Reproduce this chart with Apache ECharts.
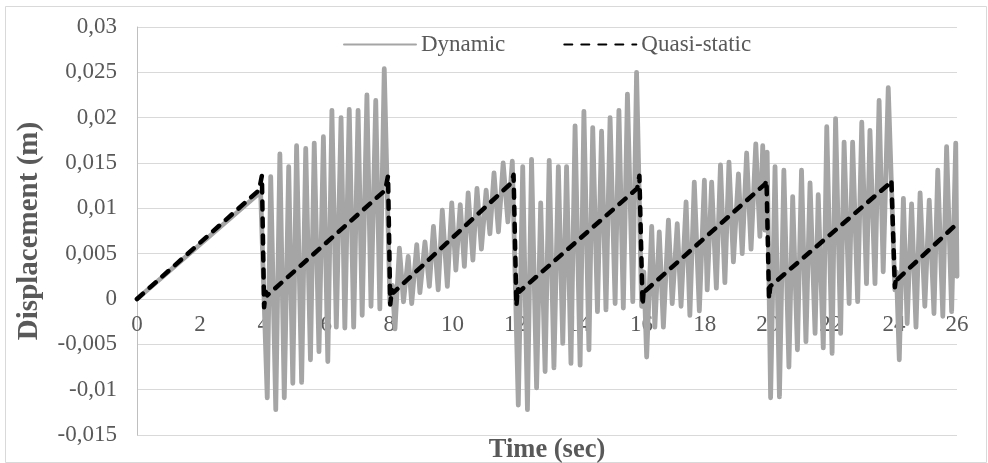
<!DOCTYPE html>
<html>
<head>
<meta charset="utf-8">
<script src="https://cdn.jsdelivr.net/npm/echarts@6/dist/echarts.min.js"></script>
<style>html,body{margin:0;padding:0;background:#fff}#c{width:988px;height:463px}</style>
</head>
<body>
<div id="c"></div>
<script>
// ---- data (time in s, displacement in m) ----
const xTicks = [0, 2, 4, 6, 8, 10, 12, 14, 16, 18, 20, 22, 24, 26];
const seriesNames = ['Dynamic', 'Quasi-static'];

const dynT = [
  0, 3.92,
  4.13, 4.24, 4.40, 4.53, 4.67, 4.81, 4.94, 5.06, 5.22, 5.35, 5.50, 5.62, 5.77, 5.91, 6.05, 6.18, 6.32, 6.47, 6.59, 6.73, 6.87, 7.01, 7.14, 7.29, 7.42, 7.57, 7.70, 7.84,
  8.02, 8.10, 8.18, 8.32, 8.45, 8.60, 8.71, 8.87, 8.97, 9.13, 9.27, 9.40, 9.55, 9.68, 9.84, 9.98, 10.11, 10.25, 10.38, 10.50, 10.65, 10.78, 10.92, 11.07, 11.19, 11.32, 11.46, 11.61, 11.76, 11.90,
  12.09, 12.23, 12.38, 12.51, 12.67, 12.80, 12.94, 13.07, 13.22, 13.36, 13.50, 13.62, 13.76, 13.89, 14.05, 14.17, 14.33, 14.45, 14.60, 14.73, 14.87, 15.00, 15.16, 15.28, 15.42, 15.55, 15.72, 15.84,
  16.00, 16.07, 16.16, 16.32, 16.42, 16.56, 16.69, 16.85, 16.97, 17.13, 17.25, 17.41, 17.53, 17.67, 17.83, 17.99, 18.08, 18.22, 18.37, 18.50, 18.64, 18.77, 18.91, 19.07, 19.19, 19.33, 19.47, 19.62, 19.75, 19.84, 19.91, 19.98,
  20.09, 20.23, 20.37, 20.51, 20.67, 20.79, 20.94, 21.07, 21.21, 21.34, 21.50, 21.60, 21.76, 21.87, 22.04, 22.15, 22.31, 22.42, 22.58, 22.69, 22.85, 22.98, 23.13, 23.24, 23.40, 23.53, 23.66, 23.82,
  24.03, 24.08, 24.17, 24.30, 24.42, 24.56, 24.70, 24.83, 24.98, 25.12, 25.27, 25.39, 25.55, 25.67, 25.83, 25.96, 26.0
];
const dynV = [
  0, 0.0118,
  -0.0109, 0.0135, -0.0122, 0.0160, -0.0109, 0.0146, -0.0093, 0.0169, -0.0092, 0.0166, -0.0067, 0.0172, -0.0058, 0.0179, -0.0069, 0.0208, -0.0031, 0.0200, -0.0032, 0.0209, -0.0031, 0.0208, -0.0018, 0.0225, -0.0008, 0.0219, -0.0011, 0.0254,
  -0.0005, 0.0015, -0.0033, 0.0056, -0.0003, 0.0047, -0.0005, 0.0060, 0.0007, 0.0063, 0.0014, 0.0080, 0.0010, 0.0098, 0.0014, 0.0106, 0.0032, 0.0104, 0.0036, 0.0117, 0.0043, 0.0122, 0.0055, 0.0120, 0.0072, 0.0139, 0.0074, 0.0150, 0.0085, 0.0152,
  -0.0117, 0.0146, -0.0122, 0.0154, -0.0098, 0.0106, -0.0080, 0.0153, -0.0076, 0.0146, -0.0049, 0.0146, -0.0071, 0.0191, -0.0073, 0.0207, -0.0056, 0.0189, -0.0014, 0.0185, -0.0012, 0.0200, -0.0005, 0.0208, -0.0010, 0.0226, -0.0003, 0.0250,
  -0.0008, 0.0030, -0.0064, 0.0080, -0.0031, 0.0074, -0.0031, 0.0087, -0.0005, 0.0083, -0.0008, 0.0107, -0.0018, 0.0129, -0.0013, 0.0131, 0.0010, 0.0129, 0.0012, 0.0148, 0.0018, 0.0151, 0.0041, 0.0138, 0.0050, 0.0161, 0.0055, 0.0171, 0.0069, 0.0169, 0.0076, 0.0162,
  -0.0109, 0.0146, -0.0108, 0.0142, -0.0075, 0.0113, -0.0056, 0.0142, -0.0047, 0.0128, -0.0038, 0.0115, -0.0054, 0.0190, -0.0060, 0.0199, -0.0038, 0.0173, -0.0005, 0.0173, -0.0003, 0.0195, 0.0017, 0.0186, 0.0017, 0.0219, 0.0030, 0.0233,
  0.0010, 0.0030, -0.0067, 0.0111, -0.0027, 0.0105, -0.0031, 0.0117, -0.0008, 0.0109, -0.0016, 0.0142, -0.0019, 0.0168, -0.0014, 0.0172, 0.0025
];

const qsT = [0, 3.87, 3.96, 4.03, 4.08, 4.13, 7.87, 7.96, 8.03, 8.08, 8.13, 11.87, 11.94, 12.03, 12.07, 12.12,
  15.86, 15.93, 16.03, 16.07, 16.12, 19.92, 19.96, 20.04, 20.08, 20.12, 23.88, 23.92, 24.03, 24.07, 24.12, 26];
const qsV = [0, 0.0120, 0.0136, -0.0009, 0.0008, 0.0004, 0.0120, 0.0136, -0.0006, 0.0010, 0.0007, 0.0128, 0.0137, -0.0008, 0.0012, 0.0008,
  0.0122, 0.0136, -0.0007, 0.0012, 0.0009, 0.0127, 0.0131, 0.0000, 0.0014, 0.0012, 0.0128, 0.0131, 0.0013, 0.0025, 0.0022, 0.0083];

const yMin = -0.015, yMax = 0.03, yStep = 0.005;

// ---- chart ----
const FONT = '"Liberation Serif", "Times New Roman", serif';
const dynData = dynT.map((t, i) => [t, dynV[i]]);
const qsData = qsT.map((t, i) => [t, qsV[i]]);

const W = 988, H = 463;
const G = {left: 137, right: 31, top: 27, bottom: 28};
// lift the x axis up to the zero line of the y axis (axis crosses at 0)
const plotH = H - G.top - G.bottom;
const xAxisOffset = -((0 - yMin) / (yMax - yMin)) * plotH;

const chart = echarts.init(document.getElementById('c'), null, {renderer: 'canvas'});
chart.setOption({
  animation: false,
  backgroundColor: '#fff',
  graphic: [{
    type: 'rect', left: 3, top: 4, z: -10, silent: true,
    shape: {width: 981, height: 456},
    style: {fill: 'none', stroke: '#d9d9d9', lineWidth: 1}
  }],
  grid: Object.assign({containLabel: false, outerBoundsMode: 'none'}, G),
  legend: {
    data: seriesNames,
    left: 338, top: 28,
    itemWidth: 72, itemHeight: 4, itemGap: 58,
    itemStyle: {opacity: 0},
    textStyle: {fontFamily: FONT, fontSize: 23, color: '#595959'}
  },
  xAxis: {
    type: 'value', min: xTicks[0], max: xTicks[xTicks.length - 1], interval: xTicks[1] - xTicks[0],
    position: 'bottom', offset: xAxisOffset,
    name: 'Time (sec)', nameLocation: 'middle', nameGap: 138,
    nameTextStyle: {fontFamily: FONT, fontSize: 26.5, fontWeight: 'bold', color: '#595959'},
    axisLine: {onZero: false, lineStyle: {color: '#d9d9d9', width: 1}},
    axisTick: {show: false},
    splitLine: {show: false},
    axisLabel: {fontFamily: FONT, fontSize: 23, color: '#595959', margin: 14, showMinLabel: true, showMaxLabel: true}
  },
  yAxis: {
    type: 'value', min: yMin, max: yMax, interval: yStep,
    name: 'Displacement (m)', nameLocation: 'middle', nameGap: 93,
    nameTextStyle: {fontFamily: FONT, fontSize: 29, fontWeight: 'bold', color: '#595959'},
    axisLine: {show: true, onZero: false, lineStyle: {color: '#bfbfbf', width: 1}},
    axisTick: {show: false},
    splitLine: {show: true, lineStyle: {color: '#d9d9d9', width: 1}},
    axisLabel: {
      fontFamily: FONT, fontSize: 23, color: '#595959', margin: 20,
      formatter: v => String(+v.toFixed(4)).replace('.', ',')
    }
  },
  series: [
    {
      name: seriesNames[0], type: 'line', data: dynData, showSymbol: false, symbol: 'none',
      lineStyle: {color: '#a5a5a5', width: 4.8, cap: 'round', join: 'round'},
      itemStyle: {color: '#a5a5a5'}, z: 2
    },
    {
      name: seriesNames[1], type: 'line', data: qsData, showSymbol: false, symbol: 'none',
      lineStyle: {color: '#000', width: 4.5, type: [8, 9], cap: 'round', join: 'round'},
      itemStyle: {color: '#000'}, z: 3
    }
  ]
});
</script>
</body>
</html>
